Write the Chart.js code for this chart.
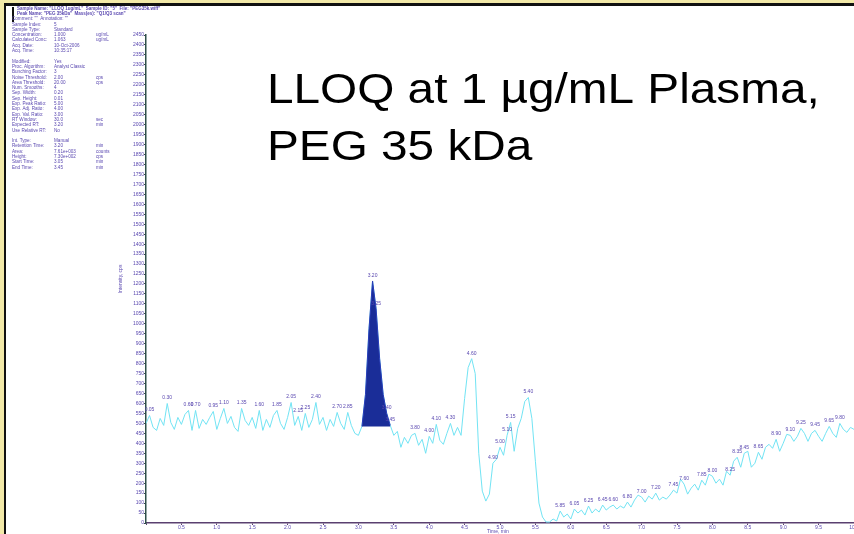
<!DOCTYPE html>
<html>
<head>
<meta charset="utf-8">
<script src="https://cdn.jsdelivr.net/npm/chart.js@4.4.1/dist/chart.umd.min.js"></script>
<style>
  html, body { margin: 0; padding: 0; background: #fff; overflow: hidden; }
  #wrap { width: 854px; height: 534px; position: relative; }
</style>
</head>
<body>
<div id="wrap"><canvas id="c" width="854" height="534"></canvas></div>
<script>
// ---- XIC trace, sampled every 0.05 min (intensity in cps) ----
const sampleInterval = 0.05;
const intensity = [
  500, 540, 480, 465, 525, 490, 600, 505, 470, 530,
  495, 545, 565, 465, 565, 475, 520, 495, 530, 560,
  470, 525, 575, 500, 535, 480, 460, 575, 515, 490,
  530, 475, 565, 465, 520, 480, 540, 565, 500, 470,
  530, 605, 490, 535, 465, 550, 480, 520, 605, 495,
  530, 465, 520, 485, 555, 500, 470, 555, 490, 450,
  440, 485, 645, 975, 1215, 1075, 825, 645, 550, 490,
  440, 460, 380, 430, 400, 440, 450, 390, 420, 350,
  435, 400, 495, 415, 395, 450, 500, 440, 480, 440,
  625, 780, 825, 750, 350, 160, 110, 145, 300, 320,
  380, 340, 440, 505, 360, 475, 525, 610, 630, 525,
  310, 100, 30, 5, 5, 20, 10, 60, 30, 45,
  20, 70, 50, 65, 40, 85, 50, 70, 55, 90,
  65, 80, 90, 70, 85, 75, 105, 80, 115, 140,
  130, 105, 135, 120, 150, 115, 130, 120, 140, 165,
  150, 220, 195, 145, 175, 195, 165, 215, 190, 245,
  235, 200, 220, 190, 260, 240, 310, 330, 280, 350,
  360, 280, 300, 355, 320, 380, 395, 375, 420, 360,
  400, 445, 440, 410, 435, 475, 450, 410, 450, 465,
  435, 410, 450, 485, 450, 430, 500, 470, 455, 480,
  470
];

// samples that carry a retention-time annotation
const annotated = [
  1, 6, 12, 14, 19, 22, 27, 32, 37, 41, 43, 45, 48, 54, 57,
  64, 65, 68, 69, 76, 80, 82, 86, 92, 98, 100, 102, 103, 108,
  117, 121, 125, 129, 132, 136, 140, 144, 149, 152, 157, 160,
  165, 167, 169, 173, 178, 182, 185, 189, 193, 196
];

// integrated peak: first/last sample and baseline level (cps)
const peakStart = 61;
const peakEnd = 69;
const peakBaseline = 485;

// axes
const xMax = 10;
const xTickStep = 0.5;
const yMax = 2450;
const yTickStep = 50;
const xTitle = 'Time, min';
const yTitle = 'Intensity, cps';

const headline = ['LLOQ at 1 \u00b5g/mL Plasma,', 'PEG 35 kDa'];

// ---- derived peak results ----
const times = intensity.map((_, i) => Math.round(i * sampleInterval * 100) / 100);
let apex = peakStart;
for (let i = peakStart; i <= peakEnd; i++) if (intensity[i] > intensity[apex]) apex = i;
let area = 0;
for (let i = peakStart; i < peakEnd; i++) {
  const a = intensity[i] - peakBaseline, b = intensity[i + 1] - peakBaseline;
  area += (a + b) / 2 * sampleInterval * 60;
}
const height = intensity[apex] - peakBaseline;

// ---- peak review panel ----
const headerLines = [
  'Sample Name: "LLOQ 1ug/mL"  Sample ID: "5"  File: "PEG35k.wiff"',
  'Peak Name: "PEG 35kDa"  Mass(es): "Q1/Q3 scan"'
];
const panelRows = [
  ['Comment: ""  Annotation: ""', '', ''],
  ['Sample Index:', '5', ''],
  ['Sample Type:', 'Standard', ''],
  ['Concentration:', '1.000', 'ug/mL'],
  ['Calculated Conc:', '1.063', 'ug/mL'],
  ['Acq. Date:', '10-Oct-2006', ''],
  ['Acq. Time:', '10:35:17', ''],
  null,
  ['Modified:', 'Yes', ''],
  ['Proc. Algorithm:', 'Analyst Classic', ''],
  ['Bunching Factor:', '3', ''],
  ['Noise Threshold:', '2.00', 'cps'],
  ['Area Threshold:', '20.00', 'cps'],
  ['Num. Smooths:', '4', ''],
  ['Sep. Width:', '0.20', ''],
  ['Sep. Height:', '0.01', ''],
  ['Exp. Peak Ratio:', '5.00', ''],
  ['Exp. Adj. Ratio:', '4.00', ''],
  ['Exp. Val. Ratio:', '3.00', ''],
  ['RT Window:', '30.0', 'sec'],
  ['Expected RT:', '3.20', 'min'],
  ['Use Relative RT:', 'No', ''],
  null,
  ['Int. Type:', 'Manual', ''],
  ['Retention Time:', times[apex].toFixed(2), 'min'],
  ['Area:', area.toExponential(2).replace('e+', 'e+00'), 'counts'],
  ['Height:', height.toExponential(2).replace('e+', 'e+00'), 'cps'],
  ['Start Time:', times[peakStart].toFixed(2), 'min'],
  ['End Time:', times[peakEnd].toFixed(2), 'min']
];

const tracePoints = intensity.map((v, i) => ({ x: times[i], y: v }));
const peakPoints = tracePoints.slice(peakStart, peakEnd + 1);

const ink = '#5a48b0';

const decorations = {
  id: 'decorations',
  beforeDraw(chart) {
    const ctx = chart.ctx;
    ctx.save();
    ctx.fillStyle = '#ffffff';
    ctx.fillRect(0, 0, chart.width, chart.height);
    // window frame
    ctx.fillStyle = '#f2e9a8';
    ctx.fillRect(0, 0, chart.width, 3);
    ctx.fillRect(0, 0, 4, chart.height);
    ctx.fillStyle = '#111';
    ctx.fillRect(4, 3, chart.width - 4, 3);
    ctx.fillRect(4, 3, 2, chart.height - 3);
    ctx.fillRect(12, 7, 2, 15);
    // panel text
    ctx.fillStyle = ink;
    ctx.textBaseline = 'middle';
    ctx.font = 'bold 4.5px "Liberation Sans", Arial, sans-serif';
    headerLines.forEach((t, k) => ctx.fillText(t, 17, 9 + k * 4.6));
    ctx.font = '4.6px "Liberation Sans", Arial, sans-serif';
    panelRows.forEach((row, k) => {
      if (!row) return;
      const y = 19 + k * 5.3;
      ctx.fillText(row[0], 12, y);
      if (row[1]) ctx.fillText(row[1], 54, y);
      if (row[2]) ctx.fillText(row[2], 96, y);
    });
    ctx.restore();
  },
  afterDatasetsDraw(chart) {
    const ctx = chart.ctx;
    const xs = chart.scales.x, ys = chart.scales.y;
    ctx.save();
    ctx.font = '5px "Liberation Sans", Arial, sans-serif';
    ctx.textAlign = 'center';
    ctx.textBaseline = 'bottom';
    ctx.fillStyle = ink;
    annotated.forEach(i => {
      const px = xs.getPixelForValue(times[i]);
      const py = ys.getPixelForValue(intensity[i]);
      ctx.fillText(times[i].toFixed(2), px, py - 3);
    });
    ctx.restore();
  },
  afterDraw(chart) {
    const ctx = chart.ctx;
    const ys = chart.scales.y;
    ctx.save();
    // axis titles
    ctx.fillStyle = ink;
    ctx.font = '5px "Liberation Sans", Arial, sans-serif';
    ctx.textAlign = 'center';
    ctx.textBaseline = 'middle';
    ctx.fillText(xTitle, 498, 531.5);
    ctx.translate(121, (ys.top + ys.bottom) / 2);
    ctx.rotate(-Math.PI / 2);
    ctx.fillText(yTitle, 0, 0);
    ctx.restore();
    // headline
    ctx.save();
    ctx.fillStyle = '#000';
    ctx.font = '43px "Liberation Sans", Arial, sans-serif';
    ctx.textBaseline = 'alphabetic';
    ctx.translate(267, 0);
    ctx.scale(1.11, 1);
    ctx.fillText(headline[0], 0, 103);
    ctx.fillText(headline[1], 0, 160);
    ctx.restore();
  }
};

new Chart(document.getElementById('c'), {
  type: 'line',
  data: {
    datasets: [
      {
        label: 'peak',
        data: peakPoints,
        borderColor: '#2a3cb8',
        backgroundColor: '#1a2d98',
        borderWidth: 1,
        pointRadius: 0,
        tension: 0,
        fill: { value: peakBaseline },
        order: 0
      },
      {
        label: 'XIC',
        data: tracePoints,
        borderColor: '#72e4f4',
        borderWidth: 1,
        pointRadius: 0,
        tension: 0,
        fill: false,
        order: 1
      }
    ]
  },
  options: {
    responsive: false,
    devicePixelRatio: 1,
    animation: false,
    events: [],
    layout: { padding: { top: 35, right: 0, bottom: 0, left: 0 } },
    plugins: { legend: { display: false }, tooltip: { enabled: false }, title: { display: false } },
    scales: {
      x: {
        type: 'linear',
        min: 0,
        max: xMax,
        afterFit(s) { s.height = 11; s.paddingLeft = 0; s.paddingRight = 0; },
        ticks: {
          stepSize: xTickStep,
          autoSkip: false,
          maxRotation: 0,
          padding: 0,
          color: ink,
          font: { size: 5, family: '"Liberation Sans", Arial, sans-serif' },
          callback: v => (v === 0 ? '' : Number(v).toFixed(1))
        },
        grid: { drawOnChartArea: false, drawTicks: true, tickLength: 2, color: '#5a4070' },
        border: { display: true, color: '#5a4070', width: 1.5 }
      },
      y: {
        type: 'linear',
        min: 0,
        max: yMax,
        afterFit(s) { s.width = 146; s.paddingTop = 0; s.paddingBottom = 0; },
        ticks: {
          stepSize: yTickStep,
          autoSkip: false,
          padding: 0,
          color: ink,
          font: { size: 5, family: '"Liberation Sans", Arial, sans-serif' },
          callback: v => String(v)
        },
        grid: { drawOnChartArea: false, drawTicks: true, tickLength: 2, color: '#3a4a48' },
        border: { display: true, color: '#2f4f4a', width: 1.5 }
      }
    }
  },
  plugins: [decorations]
});
</script>
</body>
</html>
